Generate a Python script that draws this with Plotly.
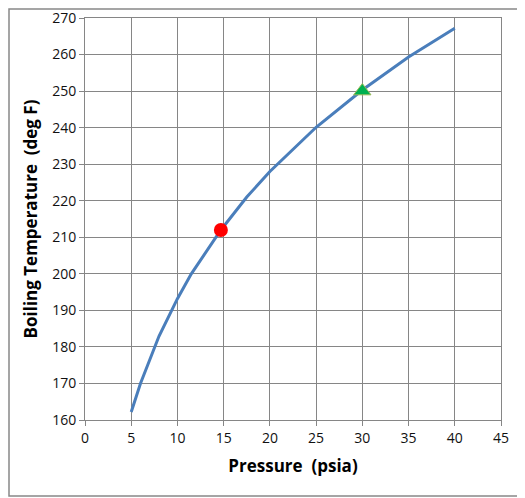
import plotly.graph_objects as go

# saturation curve for water
pressure_psia = [5, 6, 8, 10, 11.5, 14.7, 17.5, 20, 25, 30, 35, 40]
boil_temp_f = [162.2, 170.0, 182.9, 193.2, 200.0, 212.0, 221.0, 228.0, 240.1, 250.3, 259.3, 267.2]

atm_point = ([14.7], [212])
p30_point = ([30], [250])

GRID = "#868686"
FONT = "Open Sans"

fig = go.Figure()
fig.add_scatter(x=pressure_psia, y=boil_temp_f, mode="lines",
                line=dict(color="#4a7ebb", width=3), showlegend=False)
fig.add_scatter(x=atm_point[0], y=atm_point[1], mode="markers",
                marker=dict(color="#ff0000", size=14, symbol="circle"), showlegend=False)
fig.add_scatter(x=p30_point[0], y=p30_point[1], mode="markers",
                marker=dict(color="#00b050", size=15, symbol="triangle-up",
                            line=dict(color="#9bbb59", width=1)), showlegend=False)

# page body has an 8px margin, so the figure is sized to fit inside it
OFF = 8
W, H = 525 - OFF, 498 - OFF
L, T = 85 - OFF, 18 - OFF
R, B = 525 - 501, 498 - 420
pw, ph = W - L - R, H - T - B

fig.add_shape(type="rect", xref="paper", yref="paper",
              x0=-(L - 1) / pw, x1=(W - L - 2) / pw,
              y0=-(B - 2) / ph, y1=1 + (T - 1) / ph,
              line=dict(color="#888888", width=1.5))

fig.update_xaxes(range=[0, 45], dtick=5, showgrid=True, gridcolor=GRID, gridwidth=1.2,
                 showline=True, linecolor=GRID, mirror=True, zeroline=False, automargin=False,
                 ticks="outside", ticklen=5, tickcolor=GRID, ticklabeloverflow="allow",
                 tickfont=dict(family=FONT, size=14, color="#111"),
                 title=dict(text="<b>Pressure  (psia)</b>", standoff=14,
                            font=dict(family=FONT, size=17, color="black")))
fig.update_yaxes(range=[160, 270], dtick=10, showgrid=True, gridcolor=GRID, gridwidth=1.2,
                 showline=True, linecolor=GRID, mirror=True, zeroline=False, automargin=False,
                 ticks="outside", ticklen=5, tickcolor=GRID, ticklabeloverflow="allow",
                 tickfont=dict(family=FONT, size=14, color="#111"),
                 title=dict(text="<b>Boiling Temperature  (deg F)</b>", standoff=10,
                            font=dict(family=FONT, size=17, color="black")))
fig.update_layout(width=W, height=H, margin=dict(l=L, r=R, t=T, b=B),
                  plot_bgcolor="white", paper_bgcolor="white")

fig.write_html("out.html")
